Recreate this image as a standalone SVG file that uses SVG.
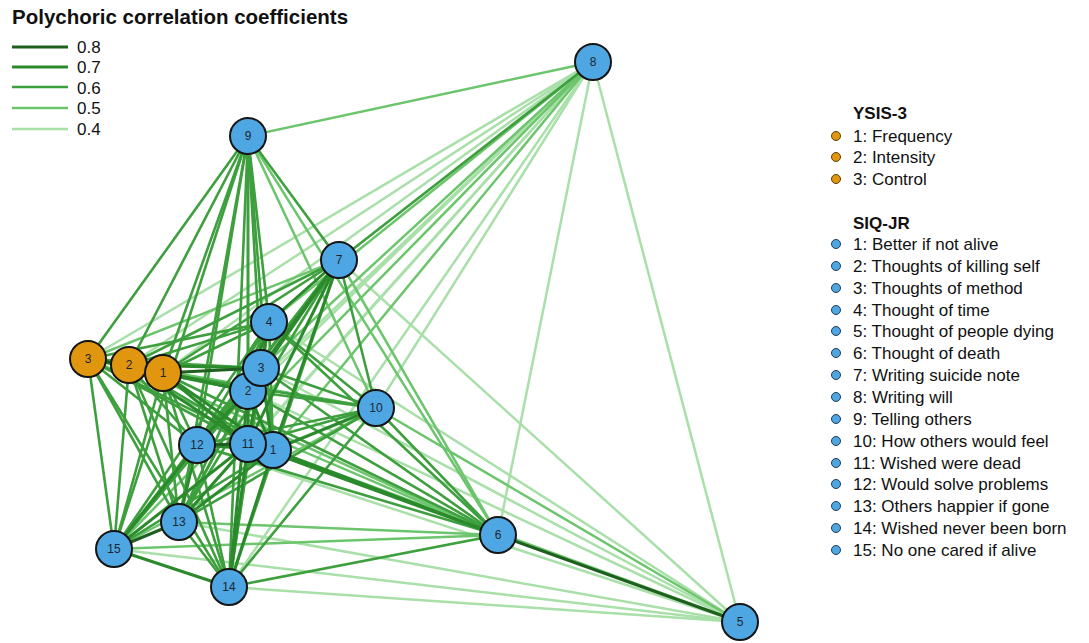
<svg xmlns="http://www.w3.org/2000/svg" width="1089" height="643" viewBox="0 0 1089 643">
<style>
text{font-family:"Liberation Sans",Arial,sans-serif;fill:#111}
.title{font-size:20.5px;font-weight:bold}
.lg{font-size:17px}
.hd{font-size:17px;font-weight:bold}
.c8{stroke:#1f5f1f;stroke-width:3}
.c7{stroke:#2b8a2b;stroke-width:3}
.c6{stroke:#3d9f3d;stroke-width:2.6}
.c5{stroke:#6cc56c;stroke-width:2.5}
.c4{stroke:#a9dfa9;stroke-width:2.5}
.nb circle{fill:#4ea6e2;stroke:#151515;stroke-width:2}
.no circle{fill:#e0960f;stroke:#151515;stroke-width:2}
.nl{font-size:12px;text-anchor:middle;fill:#1b2633}
.db{fill:#4ea6e2;stroke:#1e3c55;stroke-width:1}
.do{fill:#e0960f;stroke:#5a3c06;stroke-width:1}
</style>
<rect width="1089" height="643" fill="#fff"/>
<text class="title" x="12" y="24">Polychoric correlation coefficients</text>
<g id="scale-legend">
<line class="c8" x1="12" y1="47" x2="68" y2="47"/><text class="lg" x="77" y="53">0.8</text>
<line class="c7" x1="12" y1="67" x2="68" y2="67"/><text class="lg" x="77" y="73">0.7</text>
<line class="c6" x1="12" y1="87" x2="68" y2="87"/><text class="lg" x="77" y="94">0.6</text>
<line class="c5" x1="12" y1="108" x2="68" y2="108"/><text class="lg" x="77" y="114">0.5</text>
<line class="c4" x1="12" y1="129" x2="68" y2="129"/><text class="lg" x="77" y="135">0.4</text>
</g>
<g id="connectors">
<g class="c4">
<line x1="593" y1="62" x2="740" y2="622"/>
<line x1="593" y1="62" x2="498" y2="535"/>
<line x1="593" y1="62" x2="248" y2="391"/>
<line x1="593" y1="62" x2="248" y2="444"/>
<line x1="593" y1="62" x2="197" y2="445"/>
<line x1="593" y1="62" x2="376" y2="408"/>
<line x1="593" y1="62" x2="163" y2="373"/>
<line x1="593" y1="62" x2="129" y2="365"/>
<line x1="593" y1="62" x2="88" y2="359"/>
<line x1="593" y1="62" x2="179" y2="522"/>
<line x1="593" y1="62" x2="229" y2="587"/>
<line x1="740" y1="622" x2="114" y2="549"/>
<line x1="740" y1="622" x2="229" y2="587"/>
<line x1="740" y1="622" x2="179" y2="522"/>
<line x1="740" y1="622" x2="197" y2="445"/>
<line x1="740" y1="622" x2="248" y2="391"/>
<line x1="740" y1="622" x2="261" y2="368"/>
<line x1="740" y1="622" x2="339" y2="260"/>
<line x1="740" y1="622" x2="269" y2="322"/>
</g>
<g class="c5">
<line x1="593" y1="62" x2="248" y2="136"/>
<line x1="593" y1="62" x2="269" y2="322"/>
<line x1="593" y1="62" x2="261" y2="368"/>
<line x1="593" y1="62" x2="273" y2="450"/>
<line x1="593" y1="62" x2="114" y2="549"/>
<line x1="740" y1="622" x2="248" y2="444"/>
<line x1="740" y1="622" x2="273" y2="450"/>
<line x1="740" y1="622" x2="376" y2="408"/>
<line x1="498" y1="535" x2="339" y2="260"/>
<line x1="498" y1="535" x2="179" y2="522"/>
<line x1="498" y1="535" x2="114" y2="549"/>
<line x1="498" y1="535" x2="248" y2="136"/>
<line x1="498" y1="535" x2="129" y2="365"/>
<line x1="498" y1="535" x2="88" y2="359"/>
<line x1="248" y1="136" x2="376" y2="408"/>
<line x1="339" y1="260" x2="88" y2="359"/>
<line x1="376" y1="408" x2="114" y2="549"/>
<line x1="376" y1="408" x2="129" y2="365"/>
<line x1="376" y1="408" x2="88" y2="359"/>
</g>
<g class="c6">
<line x1="593" y1="62" x2="339" y2="260"/>
<line x1="498" y1="535" x2="248" y2="391"/>
<line x1="498" y1="535" x2="261" y2="368"/>
<line x1="498" y1="535" x2="269" y2="322"/>
<line x1="498" y1="535" x2="376" y2="408"/>
<line x1="498" y1="535" x2="197" y2="445"/>
<line x1="498" y1="535" x2="229" y2="587"/>
<line x1="498" y1="535" x2="163" y2="373"/>
<line x1="248" y1="136" x2="339" y2="260"/>
<line x1="248" y1="136" x2="269" y2="322"/>
<line x1="248" y1="136" x2="261" y2="368"/>
<line x1="248" y1="136" x2="248" y2="391"/>
<line x1="248" y1="136" x2="273" y2="450"/>
<line x1="248" y1="136" x2="248" y2="444"/>
<line x1="248" y1="136" x2="197" y2="445"/>
<line x1="248" y1="136" x2="179" y2="522"/>
<line x1="248" y1="136" x2="229" y2="587"/>
<line x1="248" y1="136" x2="114" y2="549"/>
<line x1="248" y1="136" x2="88" y2="359"/>
<line x1="248" y1="136" x2="129" y2="365"/>
<line x1="248" y1="136" x2="163" y2="373"/>
<line x1="339" y1="260" x2="197" y2="445"/>
<line x1="339" y1="260" x2="179" y2="522"/>
<line x1="339" y1="260" x2="229" y2="587"/>
<line x1="339" y1="260" x2="114" y2="549"/>
<line x1="339" y1="260" x2="376" y2="408"/>
<line x1="339" y1="260" x2="163" y2="373"/>
<line x1="339" y1="260" x2="129" y2="365"/>
<line x1="376" y1="408" x2="248" y2="444"/>
<line x1="376" y1="408" x2="248" y2="391"/>
<line x1="376" y1="408" x2="261" y2="368"/>
<line x1="376" y1="408" x2="269" y2="322"/>
<line x1="376" y1="408" x2="197" y2="445"/>
<line x1="376" y1="408" x2="179" y2="522"/>
<line x1="376" y1="408" x2="229" y2="587"/>
<line x1="376" y1="408" x2="163" y2="373"/>
<line x1="248" y1="444" x2="269" y2="322"/>
<line x1="273" y1="450" x2="269" y2="322"/>
<line x1="197" y1="445" x2="261" y2="368"/>
<line x1="197" y1="445" x2="269" y2="322"/>
<line x1="179" y1="522" x2="248" y2="391"/>
<line x1="179" y1="522" x2="261" y2="368"/>
<line x1="179" y1="522" x2="269" y2="322"/>
<line x1="179" y1="522" x2="229" y2="587"/>
<line x1="229" y1="587" x2="261" y2="368"/>
<line x1="229" y1="587" x2="269" y2="322"/>
<line x1="229" y1="587" x2="197" y2="445"/>
<line x1="114" y1="549" x2="273" y2="450"/>
<line x1="114" y1="549" x2="248" y2="391"/>
<line x1="114" y1="549" x2="261" y2="368"/>
<line x1="114" y1="549" x2="269" y2="322"/>
<line x1="163" y1="373" x2="269" y2="322"/>
<line x1="163" y1="373" x2="197" y2="445"/>
<line x1="163" y1="373" x2="179" y2="522"/>
<line x1="163" y1="373" x2="229" y2="587"/>
<line x1="163" y1="373" x2="114" y2="549"/>
<line x1="129" y1="365" x2="273" y2="450"/>
<line x1="129" y1="365" x2="269" y2="322"/>
<line x1="129" y1="365" x2="197" y2="445"/>
<line x1="129" y1="365" x2="179" y2="522"/>
<line x1="129" y1="365" x2="229" y2="587"/>
<line x1="129" y1="365" x2="114" y2="549"/>
<line x1="88" y1="359" x2="273" y2="450"/>
<line x1="88" y1="359" x2="248" y2="391"/>
<line x1="88" y1="359" x2="261" y2="368"/>
<line x1="88" y1="359" x2="269" y2="322"/>
<line x1="88" y1="359" x2="248" y2="444"/>
<line x1="88" y1="359" x2="197" y2="445"/>
<line x1="88" y1="359" x2="179" y2="522"/>
<line x1="88" y1="359" x2="229" y2="587"/>
<line x1="88" y1="359" x2="114" y2="549"/>
</g>
<g class="c7">
<line x1="498" y1="535" x2="273" y2="450"/>
<line x1="498" y1="535" x2="248" y2="444"/>
<line x1="339" y1="260" x2="269" y2="322"/>
<line x1="339" y1="260" x2="261" y2="368"/>
<line x1="339" y1="260" x2="248" y2="391"/>
<line x1="339" y1="260" x2="273" y2="450"/>
<line x1="339" y1="260" x2="248" y2="444"/>
<line x1="376" y1="408" x2="273" y2="450"/>
<line x1="163" y1="373" x2="88" y2="359"/>
<line x1="248" y1="444" x2="248" y2="391"/>
<line x1="273" y1="450" x2="248" y2="391"/>
<line x1="273" y1="450" x2="261" y2="368"/>
<line x1="261" y1="368" x2="269" y2="322"/>
<line x1="248" y1="391" x2="269" y2="322"/>
<line x1="248" y1="444" x2="261" y2="368"/>
<line x1="197" y1="445" x2="248" y2="391"/>
<line x1="197" y1="445" x2="273" y2="450"/>
<line x1="179" y1="522" x2="248" y2="444"/>
<line x1="179" y1="522" x2="197" y2="445"/>
<line x1="179" y1="522" x2="273" y2="450"/>
<line x1="229" y1="587" x2="248" y2="444"/>
<line x1="229" y1="587" x2="273" y2="450"/>
<line x1="229" y1="587" x2="248" y2="391"/>
<line x1="229" y1="587" x2="114" y2="549"/>
<line x1="114" y1="549" x2="248" y2="444"/>
<line x1="114" y1="549" x2="197" y2="445"/>
<line x1="163" y1="373" x2="273" y2="450"/>
<line x1="163" y1="373" x2="248" y2="391"/>
<line x1="163" y1="373" x2="248" y2="444"/>
<line x1="129" y1="365" x2="248" y2="391"/>
<line x1="129" y1="365" x2="261" y2="368"/>
<line x1="129" y1="365" x2="248" y2="444"/>
</g>
<g class="c8">
<line x1="498" y1="535" x2="740" y2="622"/>
<line x1="163" y1="373" x2="129" y2="365"/>
<line x1="129" y1="365" x2="88" y2="359"/>
<line x1="273" y1="450" x2="248" y2="444"/>
<line x1="248" y1="391" x2="261" y2="368"/>
<line x1="197" y1="445" x2="248" y2="444"/>
<line x1="179" y1="522" x2="114" y2="549"/>
<line x1="163" y1="373" x2="261" y2="368"/>
</g>
</g>
<g id="n-siq8" class="nb"><circle cx="593" cy="62" r="18"/><text class="nl" x="593" y="66">8</text></g>
<g id="n-siq9" class="nb"><circle cx="248" cy="136" r="18"/><text class="nl" x="248" y="140">9</text></g>
<g id="n-siq7" class="nb"><circle cx="339" cy="260" r="18"/><text class="nl" x="339" y="264">7</text></g>
<g id="n-siq10" class="nb"><circle cx="376" cy="408" r="18"/><text class="nl" x="376" y="412">10</text></g>
<g id="n-siq6" class="nb"><circle cx="498" cy="535" r="18"/><text class="nl" x="498" y="539">6</text></g>
<g id="n-siq5" class="nb"><circle cx="740" cy="622" r="18"/><text class="nl" x="740" y="626">5</text></g>
<g id="n-siq4" class="nb"><circle cx="269" cy="322" r="18"/><text class="nl" x="269" y="326">4</text></g>
<g id="n-siq2" class="nb"><circle cx="248" cy="391" r="18"/><text class="nl" x="248" y="395">2</text></g>
<g id="n-siq3" class="nb"><circle cx="261" cy="368" r="18"/><text class="nl" x="261" y="372">3</text></g>
<g id="n-siq1" class="nb"><circle cx="273" cy="450" r="18"/><text class="nl" x="273" y="454">1</text></g>
<g id="n-siq11" class="nb"><circle cx="248" cy="444" r="18"/><text class="nl" x="248" y="448">11</text></g>
<g id="n-siq12" class="nb"><circle cx="197" cy="445" r="18"/><text class="nl" x="197" y="449">12</text></g>
<g id="n-siq13" class="nb"><circle cx="179" cy="522" r="18"/><text class="nl" x="179" y="526">13</text></g>
<g id="n-siq15" class="nb"><circle cx="114" cy="549" r="18"/><text class="nl" x="114" y="553">15</text></g>
<g id="n-siq14" class="nb"><circle cx="229" cy="587" r="18"/><text class="nl" x="229" y="591">14</text></g>
<g id="n-ysis3" class="no"><circle cx="88" cy="359" r="18"/><text class="nl" x="88" y="363">3</text></g>
<g id="n-ysis2" class="no"><circle cx="129" cy="365" r="18"/><text class="nl" x="129" y="369">2</text></g>
<g id="n-ysis1" class="no"><circle cx="163" cy="373" r="18"/><text class="nl" x="163" y="377">1</text></g>
<g id="item-legend">
<text class="hd" x="853" y="119">YSIS-3</text>
<circle class="do" cx="836" cy="136" r="4.5"/><text class="lg" x="853" y="142">1: Frequency</text>
<circle class="do" cx="836" cy="157" r="4.5"/><text class="lg" x="853" y="163">2: Intensity</text>
<circle class="do" cx="836" cy="179" r="4.5"/><text class="lg" x="853" y="185">3: Control</text>
<text class="hd" x="853" y="229">SIQ-JR</text>
<circle class="db" cx="836" cy="244" r="4.5"/><text class="lg" x="853" y="250">1: Better if not alive</text>
<circle class="db" cx="836" cy="266" r="4.5"/><text class="lg" x="853" y="272">2: Thoughts of killing self</text>
<circle class="db" cx="836" cy="288" r="4.5"/><text class="lg" x="853" y="294">3: Thoughts of method</text>
<circle class="db" cx="836" cy="310" r="4.5"/><text class="lg" x="853" y="316">4: Thought of time</text>
<circle class="db" cx="836" cy="331" r="4.5"/><text class="lg" x="853" y="337">5: Thought of people dying</text>
<circle class="db" cx="836" cy="353" r="4.5"/><text class="lg" x="853" y="359">6: Thought of death</text>
<circle class="db" cx="836" cy="375" r="4.5"/><text class="lg" x="853" y="381">7: Writing suicide note</text>
<circle class="db" cx="836" cy="397" r="4.5"/><text class="lg" x="853" y="403">8: Writing will</text>
<circle class="db" cx="836" cy="419" r="4.5"/><text class="lg" x="853" y="425">9: Telling others</text>
<circle class="db" cx="836" cy="441" r="4.5"/><text class="lg" x="853" y="447">10: How others would feel</text>
<circle class="db" cx="836" cy="463" r="4.5"/><text class="lg" x="853" y="469">11: Wished were dead</text>
<circle class="db" cx="836" cy="484" r="4.5"/><text class="lg" x="853" y="490">12: Would solve problems</text>
<circle class="db" cx="836" cy="506" r="4.5"/><text class="lg" x="853" y="512">13: Others happier if gone</text>
<circle class="db" cx="836" cy="528" r="4.5"/><text class="lg" x="853" y="534">14: Wished never been born</text>
<circle class="db" cx="836" cy="550" r="4.5"/><text class="lg" x="853" y="556">15: No one cared if alive</text>
</g>
</svg>
